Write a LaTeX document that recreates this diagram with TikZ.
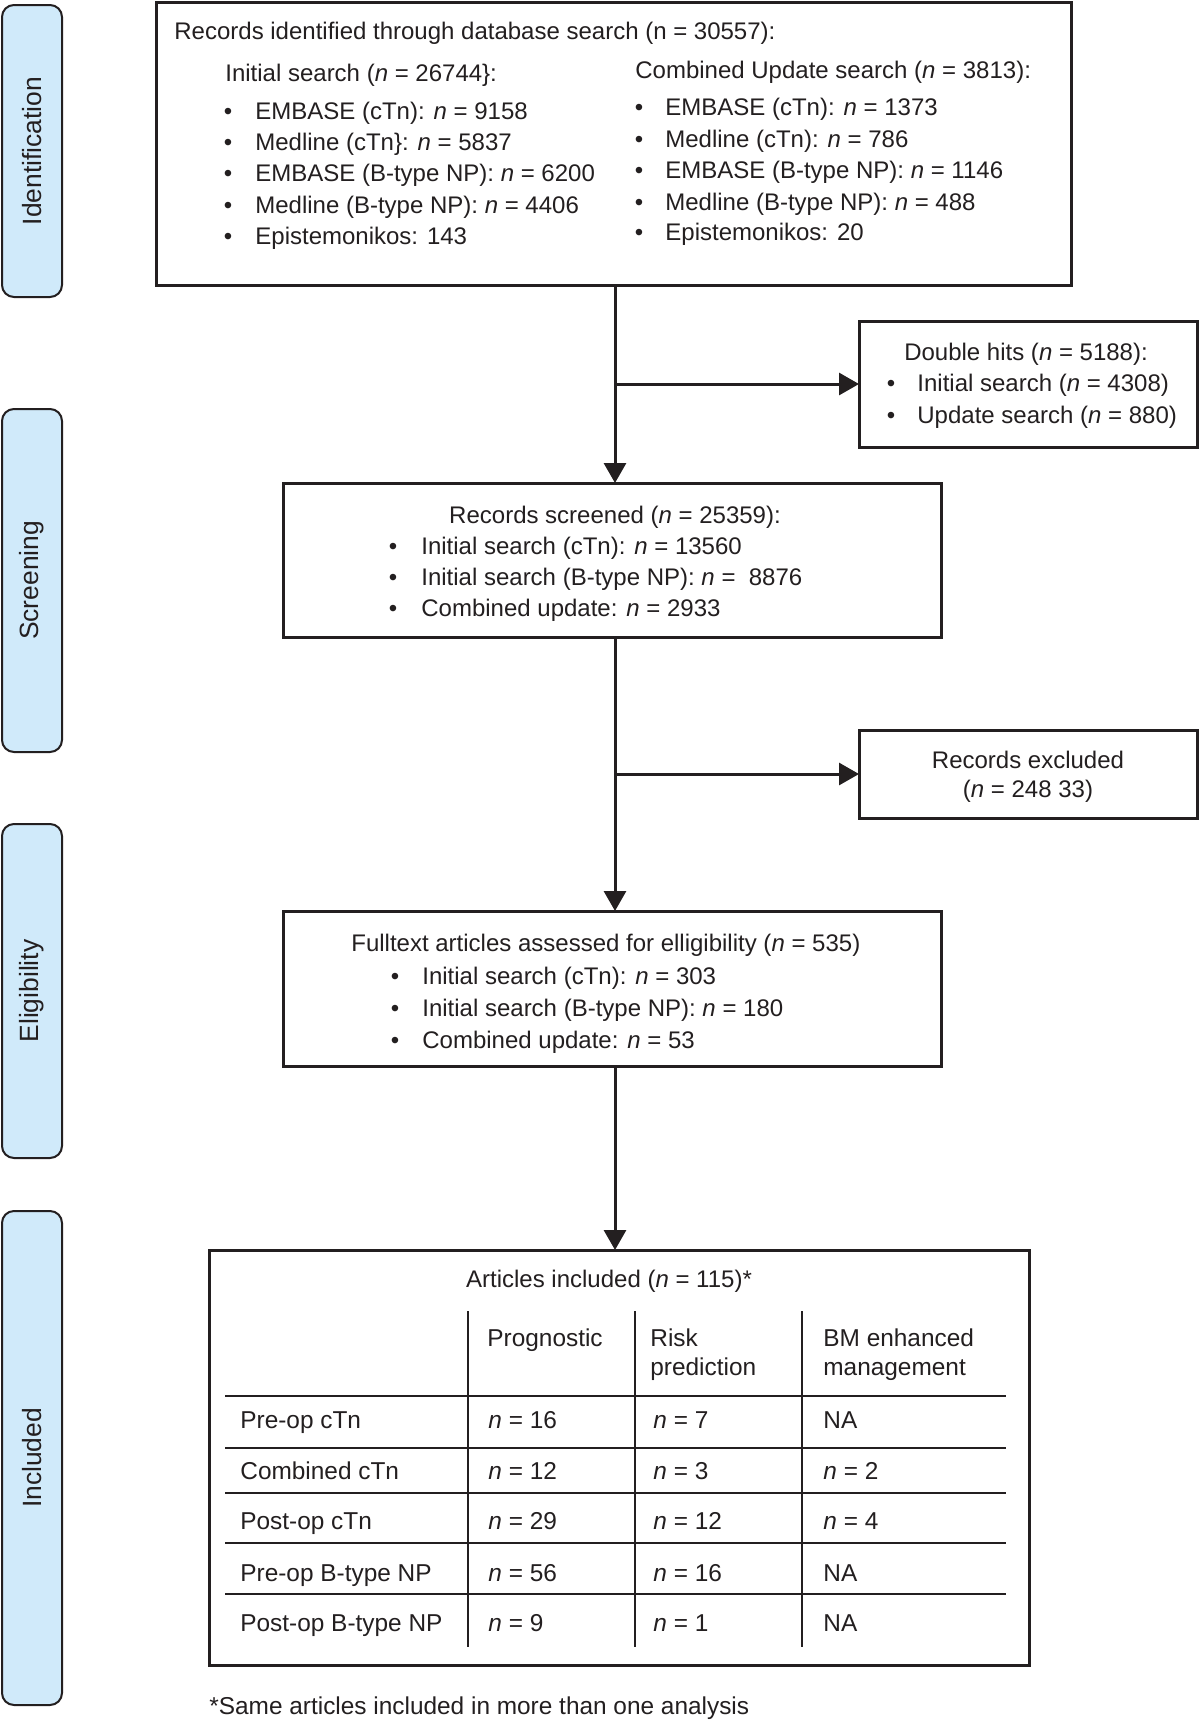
\documentclass[tikz,border=0pt]{standalone}
\usepackage{fontspec}
\setmainfont{Liberation Sans}
\usetikzlibrary{arrows.meta}
\definecolor{barfill}{RGB}{208,234,250}
\definecolor{ink}{RGB}{35,31,32}
\newcommand{\nn}{\textit{n}}
\begin{document}
\begin{tikzpicture}[x=0.5pt,y=-0.5pt,
  box/.style={draw=ink, line width=1.5pt, rectangle, inner sep=0pt, outer sep=0pt, anchor=north west},
  bar/.style={draw=ink, fill=barfill, line width=1pt, rounded corners=6pt, rectangle, inner sep=0pt, outer sep=0pt, anchor=north west, minimum width=30pt},
  barlabel/.style={rotate=90, inner sep=0pt, font=\fontsize{13.2}{15}\selectfont, text=ink},
  txt/.style={anchor=base west, inner sep=0pt, font=\fontsize{12}{14}\selectfont, text=ink},
  ctxt/.style={anchor=base, inner sep=0pt, font=\fontsize{12}{14}\selectfont, text=ink},
  bul/.style={anchor=base, inner sep=0pt, font=\fontsize{12}{14}\selectfont, text=ink},
  ttxt/.style={anchor=base west, inner sep=0pt, font=\fontsize{12.2}{14}\selectfont, text=ink},
  conn/.style={draw=ink, line width=1.5pt},
  arr/.style={conn, -{Triangle[length=10pt,width=11pt]}},
  tline/.style={draw=ink, line width=1.2pt},
]
\fill[white] (0,0) rectangle (1200,1720);
\path[use as bounding box] (0,0) rectangle (1200,1720);

% side bars
\node[bar, minimum height=146pt] (idbar) at (2,5) {};
\node[bar, minimum height=171.5pt] (scbar) at (2,409) {};
\node[bar, minimum height=167pt] (elbar) at (2,824) {};
\node[bar, minimum height=247pt] (inbar) at (2,1211) {};
\node[barlabel] (idlab) at (idbar.center) {Identification};
\node[barlabel] (sclab) at (scbar.center) {Screening};
\node[barlabel] (ellab) at (elbar.center) {Eligibility};
\node[barlabel] (inlab) at (inbar.center) {Included};

% boxes
\node[box, minimum width=457.5pt, minimum height=141.5pt] (b1) at (156,2) {};
\node[box, minimum width=169pt, minimum height=63pt] (dbl) at (859,321) {};
\node[box, minimum width=329pt, minimum height=77pt] (scr) at (283,483) {};
\node[box, minimum width=169pt, minimum height=44pt] (exc) at (859,730) {};
\node[box, minimum width=329pt, minimum height=77.5pt] (ft) at (283,911) {};
\node[box, minimum width=410pt, minimum height=207.5pt] (inc) at (209,1250) {};

% box 1 text
\node[txt] (t1) at (174,39) {Records identified through database search (n = 30557):};
\node[txt] (t1a) at (225,81) {Initial search (\nn{} = 26744\}:};
\node[bul] (u1) at (228,119) {\textbullet};
\node[bul] (u2) at (228,150) {\textbullet};
\node[bul] (u3) at (228,181) {\textbullet};
\node[bul] (u4) at (228,213) {\textbullet};
\node[bul] (u5) at (228,244) {\textbullet};
\node[txt] (a1) at (255,119) {EMBASE (cTn): \nn{} = 9158};
\node[txt] (a2) at (255,150) {Medline (cTn\}: \nn{} = 5837};
\node[txt] (a3) at (255,181) {EMBASE (B-type NP): \nn{} = 6200};
\node[txt] (a4) at (255,213) {Medline (B-type NP): \nn{} = 4406};
\node[txt] (a5) at (255,244) {Epistemonikos: 143};
\node[txt] (t1b) at (635,78) {Combined Update search (\nn{} = 3813):};
\node[bul] (v1) at (639,115) {\textbullet};
\node[bul] (v2) at (639,147) {\textbullet};
\node[bul] (v3) at (639,178) {\textbullet};
\node[bul] (v4) at (639,210) {\textbullet};
\node[bul] (v5) at (639,240) {\textbullet};
\node[txt] (c1) at (665,115) {EMBASE (cTn): \nn{} = 1373};
\node[txt] (c2) at (665,147) {Medline (cTn): \nn{} = 786};
\node[txt] (c3) at (665,178) {EMBASE (B-type NP): \nn{} = 1146};
\node[txt] (c4) at (665,210) {Medline (B-type NP): \nn{} = 488};
\node[txt] (c5) at (665,240) {Epistemonikos: 20};

% double hits
\node[ctxt] (d0) at (1026,360) {Double hits (\nn{} = 5188):};
\node[bul] (w1) at (891,391) {\textbullet};
\node[bul] (w2) at (891,423) {\textbullet};
\node[txt] (d1) at (917,391) {Initial search (\nn{} = 4308)};
\node[txt] (d2) at (917,423) {Update search (\nn{} = 880)};

% screened
\node[ctxt] (s0) at (615,523) {Records screened (\nn{} = 25359):};
\node[bul] (x1) at (393,554) {\textbullet};
\node[bul] (x2) at (393,585) {\textbullet};
\node[bul] (x3) at (393,616) {\textbullet};
\node[txt] (s1) at (421,554) {Initial search (cTn): \nn{} = 13560};
\node[txt] (s2) at (421,585) {Initial search (B-type NP): \nn{} =\ \ 8876};
\node[txt] (s3) at (421,616) {Combined update: \nn{} = 2933};

% excluded
\node[ctxt] (e1) at (1028,768) {Records excluded};
\node[ctxt] (e2) at (1028,797) {(\nn{} = 248 33)};

% fulltext
\node[txt] (f0) at (351,951) {Fulltext articles assessed for elligibility (\nn{} = 535)};
\node[bul] (y1) at (395,984) {\textbullet};
\node[bul] (y2) at (395,1016) {\textbullet};
\node[bul] (y3) at (395,1048) {\textbullet};
\node[txt] (f1) at (422,984) {Initial search (cTn): \nn{} = 303};
\node[txt] (f2) at (422,1016) {Initial search (B-type NP): \nn{} = 180};
\node[txt] (f3) at (422,1048) {Combined update: \nn{} = 53};

% connectors
\coordinate (j1) at (615,384);
\coordinate (j2) at (615,774);
\coordinate (j3) at (615,1100);
\draw[conn] (b1.south -| j1) -- (j1);
\draw[arr] (j1) -- (scr.north -| j1);
\draw[arr] (j1) -- (dbl.west);
\draw[conn] (scr.south -| j2) -- (j2);
\draw[arr] (j2) -- (ft.north -| j2);
\draw[arr] (j2) -- (exc.west);
\draw[arr] (ft.south -| j3) -- (inc.north -| j3);

% included
\node[ctxt] (i0) at (609,1287) {Articles included (\nn{} = 115)*};
\draw[tline] (468,1311) -- (468,1647);
\draw[tline] (635,1311) -- (635,1647);
\draw[tline] (802,1311) -- (802,1647);
\foreach \yy in {1396,1448,1493,1543,1594} {\draw[tline] (225,\yy) -- (1006,\yy);}
\node[ttxt] (h1) at (487,1346) {Prognostic};
\node[ttxt] (h2a) at (650,1346) {Risk};
\node[ttxt] (h2b) at (650,1375) {prediction};
\node[ttxt] (h3a) at (823,1346) {BM enhanced};
\node[ttxt] (h3b) at (823,1375) {management};
\node[ttxt] (r1) at (240,1428) {Pre-op cTn};
\node[ttxt] (r2) at (240,1479) {Combined cTn};
\node[ttxt] (r3) at (240,1529) {Post-op cTn};
\node[ttxt] (r4) at (240,1581) {Pre-op B-type NP};
\node[ttxt] (r5) at (240,1631) {Post-op B-type NP};
\node[ttxt] (p1) at (488,1428) {\nn{} = 16};
\node[ttxt] (p2) at (488,1479) {\nn{} = 12};
\node[ttxt] (p3) at (488,1529) {\nn{} = 29};
\node[ttxt] (p4) at (488,1581) {\nn{} = 56};
\node[ttxt] (p5) at (488,1631) {\nn{} = 9};
\node[ttxt] (q1) at (653,1428) {\nn{} = 7};
\node[ttxt] (q2) at (653,1479) {\nn{} = 3};
\node[ttxt] (q3) at (653,1529) {\nn{} = 12};
\node[ttxt] (q4) at (653,1581) {\nn{} = 16};
\node[ttxt] (q5) at (653,1631) {\nn{} = 1};
\node[ttxt] (m1) at (823,1428) {NA};
\node[ttxt] (m2) at (823,1479) {\nn{} = 2};
\node[ttxt] (m3) at (823,1529) {\nn{} = 4};
\node[ttxt] (m4) at (823,1581) {NA};
\node[ttxt] (m5) at (823,1631) {NA};

\node[ttxt] (fn) at (209,1714) {*Same articles included in more than one analysis};
\end{tikzpicture}
\end{document}
